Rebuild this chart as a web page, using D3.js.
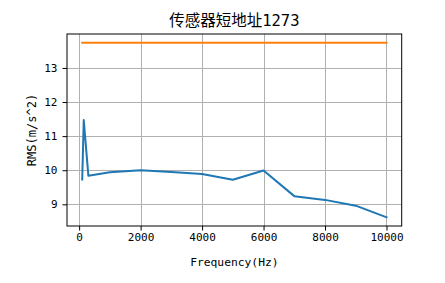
<!DOCTYPE html>
<html>
<head>
<meta charset="utf-8">
<script src="https://cdn.jsdelivr.net/npm/d3@7"></script>
<style>
  html, body { margin: 0; padding: 0; background: #fff; }
  svg { display: block; }
  .lat { font-family: "DejaVu Sans Mono", "Noto Sans CJK SC", monospace; }
</style>
</head>
<body>
<svg id="chart" width="445" height="283"></svg>
<script>
const title = "传感器短地址1273";
const xLabel = "Frequency(Hz)";
const yLabel = "RMS(m/s^2)";
const frequencies = [100, 150, 300, 1000, 2000, 3000, 4000, 5000, 6000, 7000, 8000, 9000, 10000];
const rmsValues = [9.73, 11.47, 9.84, 9.94, 10.0, 9.95, 9.89, 9.72, 9.99, 9.24, 9.13, 8.96, 8.62];
const limitValues = [13.74, 13.74, 13.74, 13.74, 13.74, 13.74, 13.74, 13.74, 13.74, 13.74, 13.74, 13.74, 13.74];
const xTicks = [0, 2000, 4000, 6000, 8000, 10000];
const yTicks = [9, 10, 11, 12, 13];

const svg = d3.select("#chart");
const L = 67, R = 401.7, T = 34, B = 226;

function padded(min, max) {
  const p = (max - min) * 0.05;
  return [min - p, max + p];
}
const allY = rmsValues.concat(limitValues);
const x = d3.scaleLinear().domain(padded(d3.min(frequencies), d3.max(frequencies))).range([L, R]);
const y = d3.scaleLinear().domain(padded(d3.min(allY), d3.max(allY))).range([B, T]);

// grid
const grid = svg.append("g");
grid.selectAll("line.gx").data(xTicks).join("line")
  .attr("x1", d => Math.round(x(d)) + 0.5).attr("x2", d => Math.round(x(d)) + 0.5)
  .attr("y1", T).attr("y2", B)
  .attr("stroke", "#b0b0b0").attr("stroke-width", 1);
grid.selectAll("line.gy").data(yTicks).join("line")
  .attr("y1", d => Math.round(y(d)) + 0.5).attr("y2", d => Math.round(y(d)) + 0.5)
  .attr("x1", L).attr("x2", R)
  .attr("stroke", "#b0b0b0").attr("stroke-width", 1);

// lines
const line = d3.line().x((d, i) => x(frequencies[i])).y(d => y(d));
svg.append("path").datum(rmsValues).attr("d", line)
  .attr("fill", "none").attr("stroke", "#1f77b4").attr("stroke-width", 2)
  .attr("stroke-linejoin", "round").attr("stroke-linecap", "square");
svg.append("path").datum(limitValues).attr("d", line)
  .attr("fill", "none").attr("stroke", "#ff7f0e").attr("stroke-width", 2)
  .attr("stroke-linecap", "square");

// axes
const xAxis = svg.append("g").attr("transform", `translate(0,${B})`)
  .call(d3.axisBottom(x).tickValues(xTicks).tickSize(4.5).tickPadding(3).tickFormat(d3.format("d")));
const yAxis = svg.append("g").attr("transform", `translate(${L},0)`)
  .call(d3.axisLeft(y).tickValues(yTicks).tickSize(4.5).tickPadding(5).tickFormat(d3.format("d")));
[xAxis, yAxis].forEach(a => {
  a.select(".domain").remove();
  a.selectAll(".tick line").attr("stroke", "#000").attr("stroke-width", 1);
  a.selectAll(".tick text").attr("class", "lat").attr("font-size", 11).attr("fill", "#000");
});

// frame
svg.append("rect").attr("x", L).attr("y", T).attr("width", R - L).attr("height", B - T)
  .attr("fill", "none").attr("stroke", "#000").attr("stroke-width", 1);

// title & labels
svg.append("text").attr("class", "lat").attr("x", (L + R) / 2).attr("y", 25.5)
  .attr("text-anchor", "middle").attr("font-size", 15.5).attr("fill", "#000").text(title);
svg.append("text").attr("class", "lat").attr("x", (L + R) / 2).attr("y", 266)
  .attr("text-anchor", "middle").attr("font-size", 11.3).attr("fill", "#000").text(xLabel);
svg.append("text").attr("class", "lat")
  .attr("transform", `translate(35.5,${(T + B) / 2}) rotate(-90)`)
  .attr("text-anchor", "middle").attr("font-size", 12).attr("fill", "#000").text(yLabel);
</script>
</body>
</html>
